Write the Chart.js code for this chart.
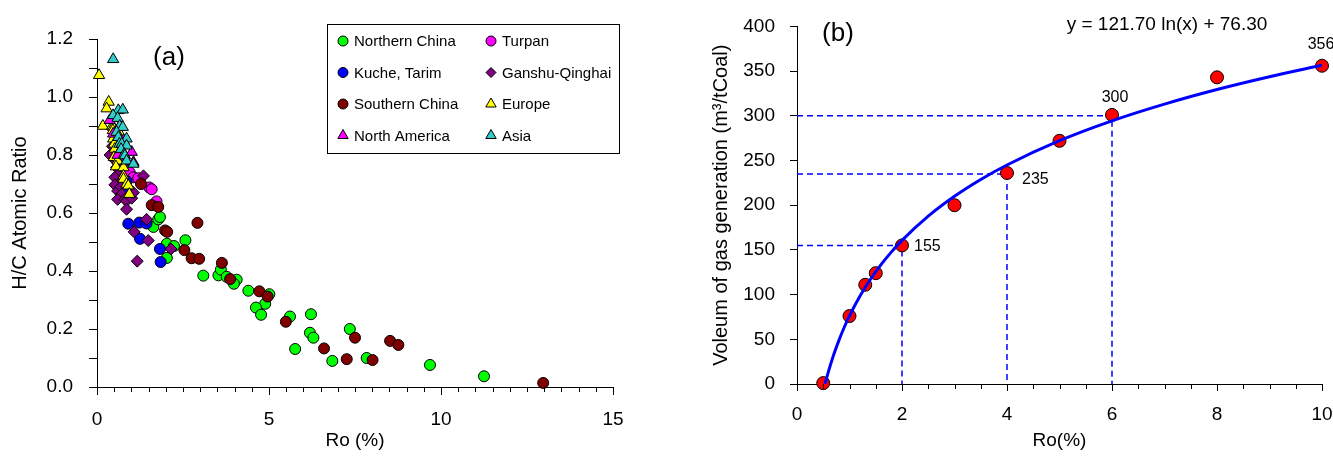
<!DOCTYPE html>
<html>
<head>
<meta charset="utf-8">
<script src="https://cdn.jsdelivr.net/npm/chart.js@4.4.0/dist/chart.umd.min.js"></script>
<style>
  html, body { margin: 0; padding: 0; background: #fff; }
  #wrap { position: relative; width: 1333px; height: 460px; }
  canvas { position: absolute; top: 0; }
  #chartA { left: 0; }
  #chartB { left: 660px; }
</style>
</head>
<body>
<div id="wrap">
  <canvas id="chartA" width="660" height="460"></canvas>
  <canvas id="chartB" width="673" height="460"></canvas>
</div>
<script>
// (a) H/C atomic ratio vs Ro, [Ro %, H/C]
const northernChina = [[1.64,0.552],[1.78,0.578],[1.83,0.586],[2.03,0.494],[2.24,0.486],[2.57,0.506],[2.03,0.445],[3.09,0.384],[3.53,0.385],[3.60,0.405],[3.77,0.38],[4.06,0.37],[3.98,0.356],[4.40,0.332],[5.01,0.32],[4.89,0.287],[4.62,0.274],[4.77,0.249],[5.61,0.243],[6.22,0.251],[6.19,0.187],[6.29,0.17],[5.76,0.131],[6.84,0.09],[7.35,0.2],[7.84,0.1],[9.68,0.076],[11.25,0.037]];
const turpan = [[0.95,0.74],[1.06,0.723],[1.2,0.72],[1.52,0.688],[1.59,0.682],[1.73,0.64]];
const kucheTarim = [[0.86,0.71],[0.92,0.68],[0.91,0.563],[1.23,0.567],[1.44,0.564],[1.25,0.511],[1.83,0.476],[1.85,0.431]];
const ganshuQinghai = [[0.38,0.80],[0.45,0.83],[0.54,0.78],[0.57,0.757],[0.62,0.734],[0.52,0.723],[0.67,0.705],[0.52,0.697],[0.6,0.676],[0.7,0.69],[0.72,0.665],[0.6,0.647],[0.81,0.647],[0.86,0.642],[0.86,0.613],[1.01,0.651],[1.06,0.67],[0.77,0.769],[1.35,0.728],[1.44,0.578],[1.08,0.535],[1.49,0.505],[2.15,0.476],[1.17,0.434]];
const southernChina = [[1.28,0.70],[1.59,0.627],[1.78,0.621],[1.98,0.54],[2.04,0.535],[2.92,0.566],[2.54,0.472],[2.75,0.444],[2.97,0.442],[3.63,0.428],[3.87,0.372],[4.72,0.33],[4.96,0.312],[5.49,0.225],[6.6,0.133],[7.26,0.096],[7.5,0.17],[8.01,0.093],[8.52,0.159],[8.76,0.145],[12.97,0.014]];
const europe = [[0.06,1.075],[0.34,0.983],[0.28,0.96],[0.17,0.90],[0.44,0.90],[0.47,0.896],[0.46,0.885],[0.67,0.873],[0.47,0.856],[0.5,0.838],[0.52,0.821],[0.49,0.792],[0.6,0.78],[0.55,0.76],[0.77,0.757],[0.77,0.728],[0.77,0.717],[0.86,0.70],[0.91,0.694],[0.94,0.665]];
const northAmerica = [[0.37,0.92],[0.66,0.90],[0.47,0.873],[0.77,0.85],[0.6,0.8],[1.01,0.81],[1.06,0.775]];
const asia = [[0.47,1.13],[0.62,0.954],[0.75,0.956],[0.47,0.937],[0.6,0.927],[0.66,0.9],[0.75,0.896],[0.57,0.879],[0.62,0.861],[0.86,0.856],[0.65,0.838],[0.72,0.838],[0.86,0.832],[0.7,0.82],[0.79,0.803],[0.81,0.798],[0.86,0.78],[1.06,0.769]];

// (b) gas generation vs Ro
const roMeasured = [0.5, 1, 1.3, 1.5, 2, 3, 4, 5, 6, 8, 10];
const gasMeasured = [1, 76, 111, 124, 155, 200, 236, 272, 301, 343, 356];
// trend line y = 121.70 ln(x) + 76.30
const roFit = [0.534, 0.6, 0.7, 0.8, 0.9, 1, 1.2, 1.4, 1.6, 1.8, 2, 2.5, 3, 3.5, 4, 5, 6, 7, 8, 9, 10];
const gasFit = [0, 14.1, 32.9, 49.1, 63.5, 76.3, 98.5, 117.2, 133.5, 147.8, 160.7, 187.8, 210.0, 228.8, 245.0, 272.2, 294.4, 313.1, 329.4, 343.7, 356.5];
const guideRo = [2, 4, 6];
const guideGas = [155, 235, 300];
const labelRo = [2, 4, 6, 10];
const labelText = ["155", "235", "300", "356"];

(function () {
  const FONT = "'Liberation Sans', Arial, sans-serif";
  Chart.defaults.font.family = FONT;
  Chart.defaults.color = "#000";

  const seriesA = [
    { label: "Northern China", data: northernChina, color: "#00ff00", style: "circle", r: 5.5 },
    { label: "Turpan", data: turpan, color: "#ff00ff", style: "circle", r: 5.5 },
    { label: "Kuche, Tarim", data: kucheTarim, color: "#0000ff", style: "circle", r: 5.5 },
    { label: "Ganshu-Qinghai", data: ganshuQinghai, color: "#800080", style: "rectRot", r: 6 },
    { label: "Southern China", data: southernChina, color: "#800000", style: "circle", r: 5.5 },
    { label: "Europe", data: europe, color: "#ffff00", style: "triangle", r: 6.5 },
    { label: "North America", data: northAmerica, color: "#ff00ff", style: "triangle", r: 6.5 },
    { label: "Asia", data: asia, color: "#33cccc", style: "triangle", r: 6.5 },
  ];

  // short ticks every 0.5 along the x axis
  const minorTicks = {
    id: "minorTicks",
    afterDraw(chart, args, opts) {
      const s = chart.scales.x;
      const ctx = chart.ctx;
      ctx.save();
      ctx.strokeStyle = "#000";
      ctx.lineWidth = 1;
      for (let v = s.min; v <= s.max + 1e-9; v += opts.step) {
        const px = Math.round(s.getPixelForValue(v)) + 0.5;
        ctx.beginPath();
        ctx.moveTo(px, s.top);
        ctx.lineTo(px, s.top + opts.length);
        ctx.stroke();
      }
      ctx.restore();
    },
  };

  const axis = (tickLength, extra) => Object.assign({
    type: "linear",
    grid: { drawOnChartArea: false, drawTicks: true, tickLength, color: "#000" },
    border: { color: "#000", width: 1 },
  }, extra);

  function renderA() {
    const legendA = {
      id: "legendA",
      afterDraw(chart) {
        const ctx = chart.ctx;
        ctx.save();
        ctx.strokeStyle = "#000";
        ctx.lineWidth = 1;
        ctx.strokeRect(327.5, 24.5, 292, 129);
        const cols = [343, 491];
        const rows = [41, 72.5, 104, 135.5];
        ctx.font = "15px " + FONT;
        ctx.textBaseline = "middle";
        seriesA.forEach((s, i) => {
          const x = cols[i % 2], y = rows[Math.floor(i / 2)];
          ctx.fillStyle = s.color;
          ctx.strokeStyle = "#000";
          ctx.lineWidth = 1;
          Chart.helpers.drawPoint(ctx, { pointStyle: s.style, radius: s.style === "triangle" ? 6 : 5, borderWidth: 1, rotation: 0 }, x, y);
          ctx.fillStyle = "#000";
          ctx.fillText(s.label, x + 11, y + 1);
        });
        ctx.font = "26px " + FONT;
        ctx.textAlign = "center";
        ctx.fillText("(a)", 169, 58);
        ctx.restore();
      },
    };

    new Chart(document.getElementById("chartA"), {
      type: "scatter",
      data: {
        datasets: seriesA.map((s, i) => ({
          label: s.label,
          data: s.data.map(([x, y]) => ({ x, y })),
          pointStyle: s.style,
          backgroundColor: s.color,
          borderColor: "#000",
          borderWidth: 1,
          pointRadius: s.r,
          pointHoverRadius: s.r,
          order: seriesA.length - i,
          clip: false,
        })),
      },
      options: {
        responsive: false,
        animation: false,
        layout: { padding: { top: 39, right: 47, bottom: 0, left: 0 } },
        plugins: { legend: { display: false }, tooltip: { enabled: false }, minorTicks: { step: 0.5, length: 5 } },
        scales: {
          x: axis(8, {
            min: 0, max: 15,
            ticks: { stepSize: 5, padding: 13, font: { size: 19 } },
            title: { display: true, text: "Ro (%)", font: { size: 19 }, padding: { top: 0, bottom: 8 } },
            afterFit: s => { s.height = 73; s.paddingLeft = 0; s.paddingRight = 0; },
          }),
          y: axis(8, {
            min: 0, max: 1.2,
            ticks: {
              stepSize: 0.1, autoSkip: false, padding: 16, font: { size: 19 },
              callback: v => (Math.round(v * 10) % 2 === 0 ? v.toFixed(1) : ""),
            },
            title: { display: true, text: "H/C Atomic Ratio", font: { size: 20 }, padding: { top: 8, bottom: 0 } },
            afterFit: s => { s.width = 97; },
          }),
        },
      },
      plugins: [minorTicks, legendA],
    });
  }

  function renderB() {
    const textB = {
      id: "textB",
      afterDatasetsDraw(chart) {
        const ctx = chart.ctx;
        const xs = chart.scales.x, ys = chart.scales.y;
        // label offsets from their point: dx, dy, align
        const offsets = [[12, 1, "left"], [15, 7, "left"], [3, -17, "center"], [-1, -21, "center"]];
        ctx.save();
        ctx.fillStyle = "#000";
        ctx.textBaseline = "middle";
        ctx.font = "16px " + FONT;
        labelRo.forEach((ro, i) => {
          const gas = gasMeasured[roMeasured.indexOf(ro)];
          const [dx, dy, align] = offsets[i];
          ctx.textAlign = align;
          ctx.fillText(labelText[i], xs.getPixelForValue(ro) + dx, ys.getPixelForValue(gas) + dy);
        });
        ctx.textAlign = "center";
        ctx.font = "19px " + FONT;
        ctx.fillText("y = 121.70 ln(x) + 76.30", 507, 25);
        ctx.font = "26px " + FONT;
        ctx.fillText("(b)", 178, 34);
        ctx.restore();
      },
    };

    const guides = guideRo.map((ro, i) => ({
      data: [{ x: 0, y: guideGas[i] }, { x: ro, y: guideGas[i] }, { x: ro, y: 0 }],
      showLine: true,
      borderColor: "#0000ff",
      borderWidth: 1.5,
      borderDash: [6, 4],
      pointRadius: 0,
      order: 3,
    }));

    new Chart(document.getElementById("chartB"), {
      type: "scatter",
      data: {
        datasets: [
          {
            label: "fit",
            data: roFit.map((x, i) => ({ x, y: gasFit[i] })),
            showLine: true,
            borderColor: "#0000ff",
            borderWidth: 3,
            pointRadius: 0,
            cubicInterpolationMode: "monotone",
            order: 0,
          },
          {
            label: "measured",
            data: roMeasured.map((x, i) => ({ x, y: gasMeasured[i] })),
            backgroundColor: "#ff0000",
            borderColor: "#000",
            borderWidth: 1,
            pointRadius: 6.5,
            pointHoverRadius: 6.5,
            order: 1,
            clip: false,
          },
          ...guides,
        ],
      },
      options: {
        responsive: false,
        animation: false,
        layout: { padding: { top: 18, right: 11, bottom: 0, left: 0 } },
        plugins: { legend: { display: false }, tooltip: { enabled: false }, minorTicks: { step: 0.5, length: 5 } },
        scales: {
          x: axis(7, {
            min: 0, max: 10,
            ticks: { stepSize: 2, padding: 12, font: { size: 19 } },
            title: { display: true, text: "Ro(%)", font: { size: 19 }, padding: { top: 0, bottom: 8 } },
            afterFit: s => { s.height = 76; s.paddingLeft = 0; s.paddingRight = 0; },
          }),
          y: axis(7, {
            min: 0, max: 400,
            ticks: { stepSize: 50, padding: 15, font: { size: 19 } },
            title: { display: true, text: "Voleum of gas generation (m³/tCoal)", font: { size: 20 }, padding: { top: 49, bottom: 0 } },
            afterFit: s => { s.width = 137; },
          }),
        },
      },
      plugins: [minorTicks, textB],
    });
  }

  renderA();
  renderB();
})();
</script>
</body>
</html>
